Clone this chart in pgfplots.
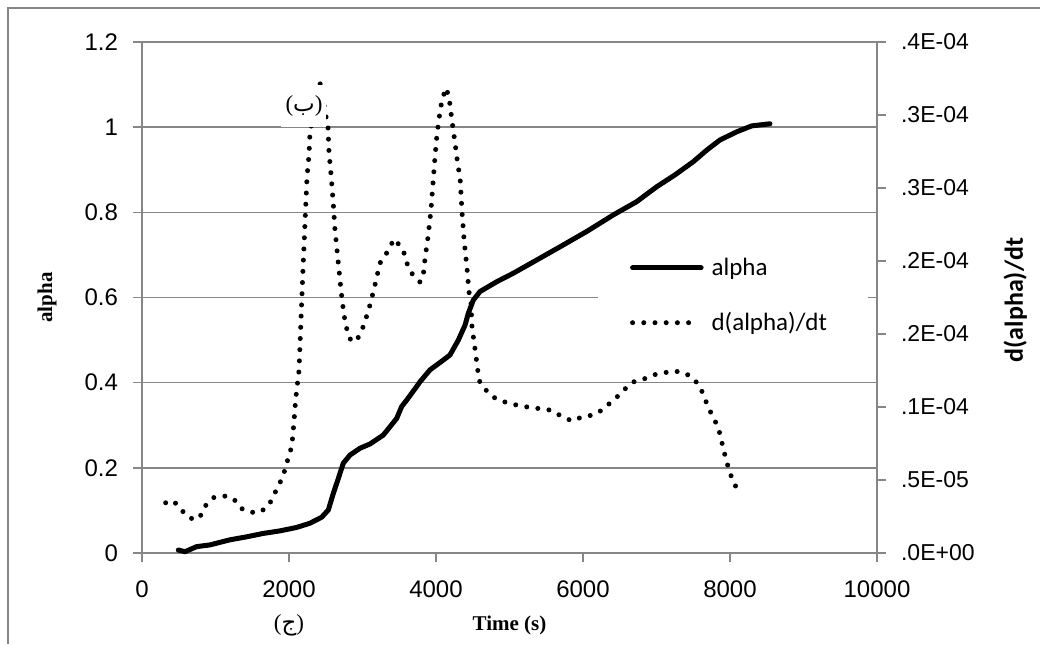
\documentclass[border=0pt]{standalone}
\usepackage{fontspec}
\setmainfont{Liberation Serif}
\newfontfamily\arial{Liberation Sans}
\newfontfamily\calibri{Carlito}
\newfontfamily\arabicfont[Script=Arabic]{DejaVu Sans}
\TeXXeTstate=1
\usepackage{pgfplots}
\usepackage{pgfplotstable}
\pgfplotsset{compat=1.18}
\definecolor{axgray}{RGB}{134,134,134}
\pgfplotsset{
  longline/.style={legend image code/.code={\draw[##1] (1.25pt,0pt) -- (35.5pt,0pt);}},
  shortline/.style={legend image code/.code={\draw[##1] (1.25pt,0pt) -- (30pt,0pt);}},
}

\pgfplotstableread{
t a
494 0.007
585 0.003
744 0.015
925 0.019
1197 0.031
1424 0.038
1651 0.046
1878 0.052
2104 0.060
2286 0.070
2444 0.084
2535 0.101
2603 0.140
2671 0.175
2739 0.211
2830 0.230
2966 0.246
3102 0.256
3283 0.277
3465 0.316
3533 0.344
3601 0.359
3737 0.391
3782 0.402
3918 0.430
4099 0.453
4190 0.465
4304 0.500
4395 0.535
4440 0.563
4508 0.594
4599 0.614
4826 0.637
5052 0.657
5370 0.688
5687 0.719
6050 0.755
6413 0.794
6730 0.825
7002 0.860
7252 0.888
7501 0.919
7683 0.946
7864 0.970
8091 0.989
8295 1.003
8544 1.008
}\alphatab

% d(alpha)/dt in units of 1E-05
\pgfplotstableread{
t v
322 0.344
426 0.358
517 0.306
621 0.249
721 0.226
803 0.260
871 0.329
980 0.381
1138 0.390
1252 0.368
1347 0.306
1479 0.279
1605 0.279
1723 0.324
1787 0.390
1855 0.459
1923 0.530
1959 0.603
2009 0.676
2041 0.745
2068 0.900
2091 1.055
2136 1.250
2190 1.940
2245 2.575
2272 2.726
2286 2.884
2422 3.219
2531 2.911
2544 2.747
2571 2.596
2599 2.418
2626 2.212
2667 2.007
2707 1.801
2748 1.630
2803 1.493
2857 1.445
2939 1.473
3020 1.562
3102 1.699
3170 1.836
3238 1.986
3306 2.034
3374 2.096
3429 2.151
3524 2.096
3578 2.041
3619 1.959
3687 1.904
3782 1.856
3823 1.884
3850 2.014
3891 2.164
3932 2.350
3986 2.712
4014 2.870
4054 3.021
4082 3.103
4136 3.185
4177 3.123
4218 2.959
4259 2.808
4299 2.651
4327 2.575
4354 2.336
4381 2.150
4422 1.950
4449 1.788
4476 1.712
4490 1.548
4531 1.397
4571 1.240
4599 1.164
4680 1.116
4776 1.068
4939 1.034
5143 1.007
5347 0.993
5551 0.979
5728 0.932
5850 0.904
5986 0.932
6136 0.945
6259 0.979
6367 1.027
6476 1.075
6585 1.130
6680 1.171
6830 1.192
6952 1.219
7088 1.233
7238 1.247
7388 1.233
7510 1.192
7592 1.137
7646 1.075
7701 1.000
7769 0.932
7837 0.863
7878 0.788
7905 0.719
7946 0.644
7986 0.568
8041 0.493
8109 0.425
}\ratetab

\begin{document}
\begin{tikzpicture}
\useasboundingbox (-71pt,-45.5pt) rectangle (449pt,276.5pt);
\draw[axgray, line width=0.8pt] (-67pt,-45.5pt) -- (-67pt,272.5pt) -- (449pt,272.5pt);
\begin{axis}[
  scale only axis, width=367.5pt, height=255.5pt,
  xmin=0, xmax=10000, ymin=0, ymax=1.2,
  xtick={0,2000,4000,6000,8000,10000},
  ytick={0,0.2,0.4,0.6,0.8,1,1.2},
  axis x line*=bottom, axis y line*=left,
  axis line style={axgray, line width=0.8pt, -},
  tick align=outside, major tick length=4.5pt,
  tick style={axgray, line width=0.8pt},
  ymajorgrids, grid style={axgray, line width=0.8pt},
  scaled ticks=false,
  /pgf/number format/1000 sep={},
  /pgf/number format/assume math mode=true,
  xticklabel style={font=\arial\fontsize{12}{14}\selectfont, yshift=-6pt},
  yticklabel style={font=\arial\fontsize{12}{14}\selectfont, xshift=-4pt},
  xlabel={Time (s)}, ylabel={alpha},
  xlabel style={font=\bfseries\fontsize{10.5}{12}\selectfont, at={(axis description cs:0.5,-0.141)}, anchor=center},
  ylabel style={font=\bfseries\fontsize{10.5}{12}\selectfont, at={(axis description cs:-0.129,0.5)}, anchor=center},
  clip=false,
]
\addplot[black, line width=2.5pt, line cap=round, line join=round] table[x=t, y=a] {\alphatab};
\node[font=\fontsize{11.5}{12}\selectfont] at (rel axis cs:0.2,-0.141) {({\arabicfont\beginR ج\endR})};
\end{axis}
\begin{axis}[
  scale only axis, width=367.5pt, height=255.5pt,
  xmin=0, xmax=10000, ymin=0, ymax=3.5,
  axis x line=none, axis y line*=right,
  axis line style={axgray, line width=0.8pt, -},
  tick align=outside, major tick length=4.5pt,
  tick style={axgray, line width=0.8pt},
  ytick={0,0.5,1,1.5,2,2.5,3,3.5},
  yticklabels={.0E+00,.5E-05,.1E-04,.2E-04,.2E-04,.3E-04,.3E-04,.4E-04},
  yticklabel style={font=\arial\fontsize{11.5}{13}\selectfont, xshift=4pt},
  ylabel={d(alpha)/dt},
  ylabel style={font=\calibri\bfseries\fontsize{13}{15}\selectfont, at={(axis description cs:1.188,0.495)}, anchor=center, rotate=0},
  legend style={draw=none, fill=white, at={(0.62,0.61)}, anchor=north west,
    font=\calibri\fontsize{12.5}{14}\selectfont, inner xsep=16pt, inner ysep=6pt,
    row sep=13pt, column sep=2pt},
  legend cell align=left,
  clip=false,
]
\addlegendimage{black, line width=2.5pt, line cap=round, longline}
\addlegendentry{\makebox[60pt][l]{alpha}}
\addplot[black, line width=2.5pt, line cap=round, dash pattern=on 0pt off 5.6pt, shortline] table[x=t, y=v] {\ratetab};
\addlegendentry{\makebox[60pt][l]{d(alpha)/dt}}
\node[fill=white, inner sep=0pt, minimum width=22.5pt, minimum height=21pt,
  font=\fontsize{11.5}{12}\selectfont] at (axis cs:2204,3.062) {\raisebox{-3pt}{({\arabicfont\beginR ب\endR})}};
\end{axis}
\end{tikzpicture}
\end{document}
